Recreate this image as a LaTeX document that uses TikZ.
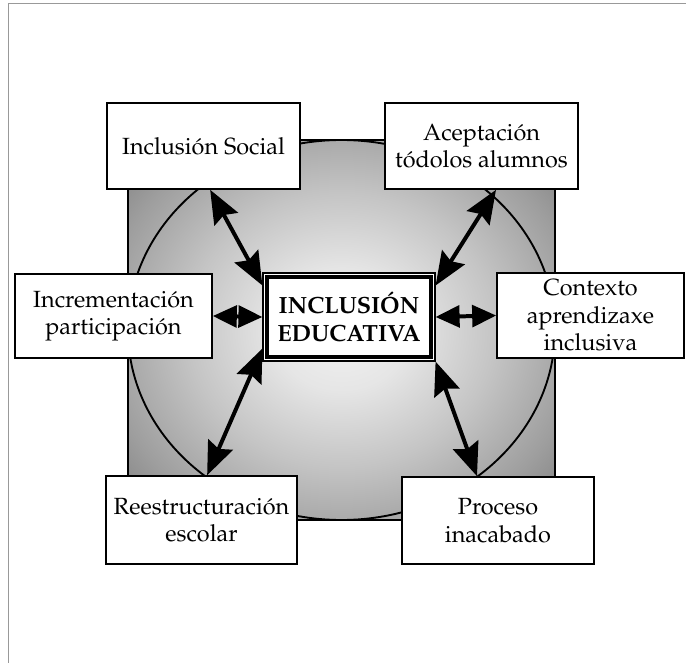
\documentclass[tikz,border=0pt]{standalone}
\usepackage[T1]{fontenc}
\usepackage{mathpazo}
\usetikzlibrary{arrows.meta}

\pgfdeclareradialshading{cadro}{\pgfpoint{0bp}{0bp}}{color(0bp)=(black!5); color(8bp)=(black!10); color(18bp)=(black!23); color(28bp)=(black!38); color(36bp)=(black!52); color(50bp)=(black!52)}

\tikzset{
  caixa/.style={draw, line width=1.4pt, fill=white, align=center, inner sep=2pt,
    font=\fontsize{20}{23.5}\selectfont},
  punta/.tip={Stealth[length=10mm,width=8mm,inset=1.4mm]},
  puntacurta/.tip={Stealth[length=7.2mm,width=6.5mm,inset=0pt]},
  frecha/.style={arrows={punta-punta}, line width=3.4pt},
  frechacurta/.style={arrows={puntacurta-puntacurta}, line width=3.4pt}
}

\begin{document}
\begin{tikzpicture}
      \useasboundingbox (-10.245,-9.99) rectangle (10.335,9.9);
      \draw[black!40, line width=0.8pt] (-9.99,-9.99) -- (-9.99,9.795) -- (10.335,9.795);

      % fondo
      \shade[shading=cadro] (-6.405,-5.7) rectangle (6.405,5.7);
      \draw[line width=1.5pt] (-6.405,-5.7) rectangle (6.405,5.7);
      \draw[line width=1.6pt] (0,0) ellipse [x radius=6.405, y radius=5.7];

      \node[caixa, minimum width=5.79cm, minimum height=2.58cm] (social) at (-4.14,5.52) {Inclusión Social};
      \node[caixa, minimum width=5.79cm, minimum height=2.58cm] (aceptacion) at (4.2,5.52) {Aceptación\\tódolos alumnos};
      \node[caixa, minimum width=5.91cm, minimum height=2.52cm] (incrementacion) at (-6.84,0.42) {Incrementación\\participación};
      \node[caixa, minimum width=5.61cm, minimum height=2.55cm] (contexto) at (7.47,0.435) {Contexto\\aprendizaxe\\inclusiva};
      \node[caixa, minimum width=5.73cm, minimum height=2.64cm] (reestruct) at (-4.2,-5.7) {Reestructuración\\escolar};
      \node[caixa, minimum width=5.76cm, minimum height=2.61cm] (proceso) at (4.695,-5.715) {Proceso\\inacabado};

      % caixa central
      \node[caixa, line width=1pt, minimum width=5.16cm, minimum height=2.64cm, font=\fontsize{20}{23.5}\selectfont\bfseries] (central) at (0.225,0.39) {INCLUSIÓN\\EDUCATIVA};
      \draw[line width=3pt] ([shift={(0.14,-0.14)}]central.north west) rectangle ([shift={(-0.14,0.14)}]central.south east);

      \draw[frecha] ([xshift=0.2cm]social.south) -- (central.160);
      \draw[frecha] ([xshift=0.435cm]aceptacion.south) -- (central.20);
      \draw[frechacurta] (incrementacion.east) -- (central.west);
      \draw[frechacurta] (central.east) -- (contexto.west);
      \draw[frecha] ([xshift=0.17cm]reestruct.north) -- (central.200);
      \draw[frecha] ([xshift=-0.63cm]proceso.north) -- (central.south east);
\end{tikzpicture}
\end{document}
